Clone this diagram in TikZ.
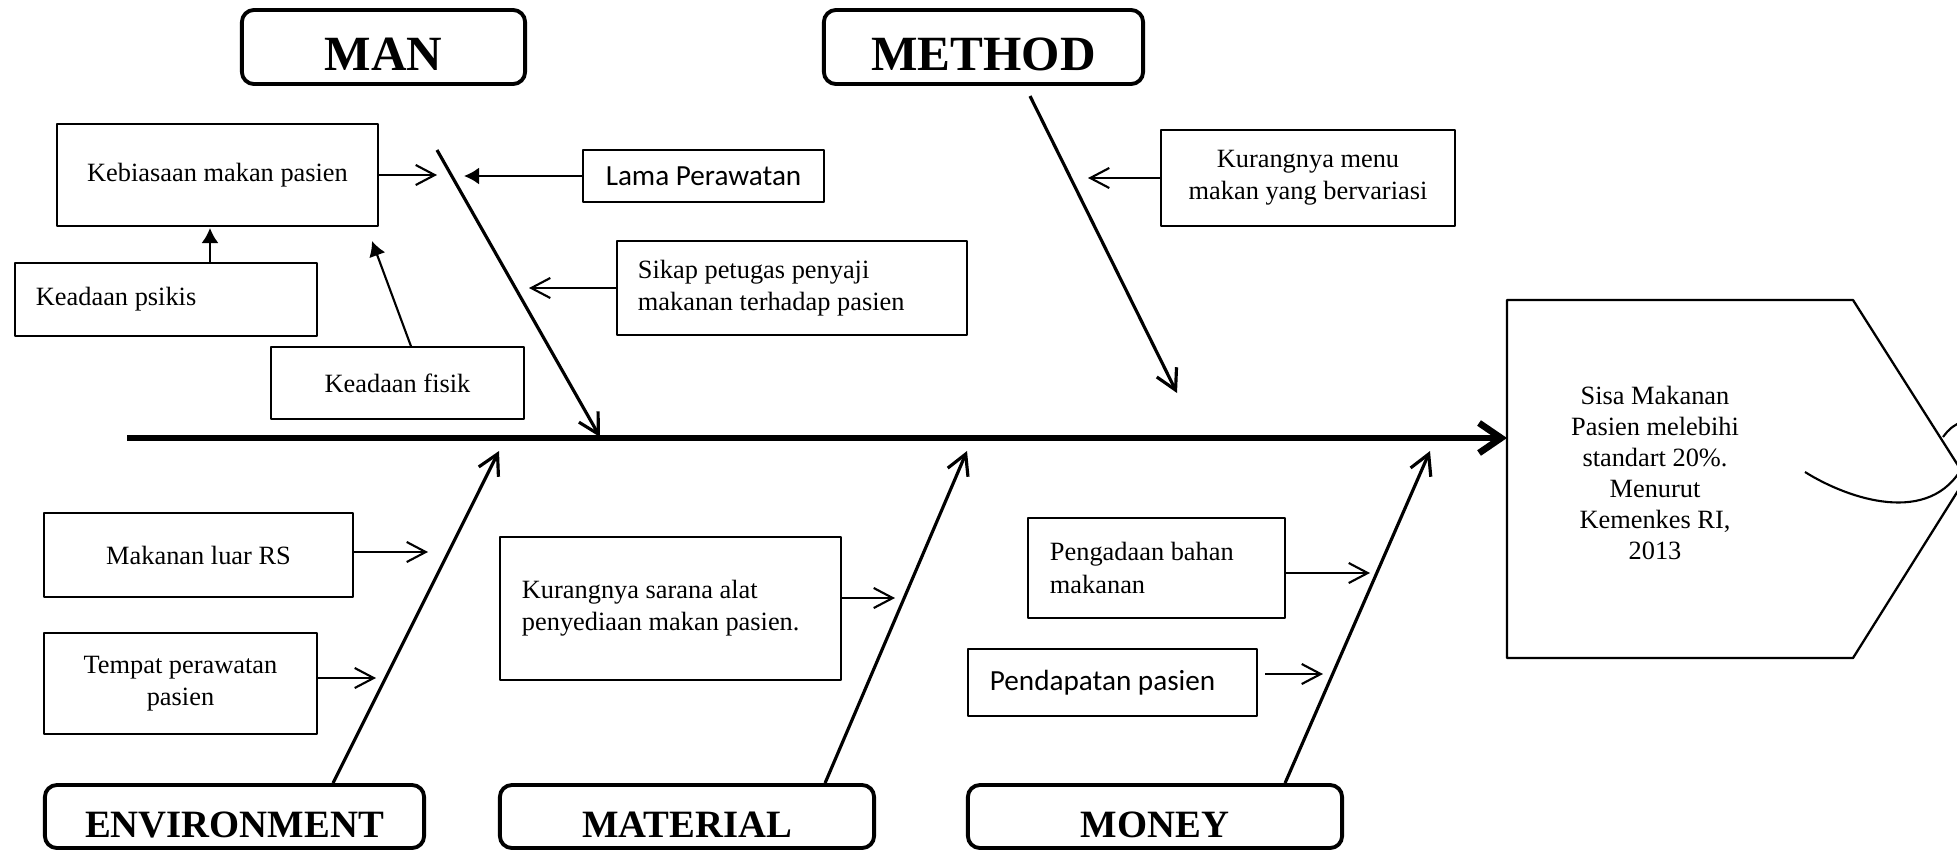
\documentclass[tikz,border=0pt]{standalone}
\usepackage{fontspec}
\setmainfont{Liberation Serif}
\newfontfamily\calibri{Carlito}
\usetikzlibrary{arrows.meta}

\begin{document}
\begin{tikzpicture}[x=0.01cm,y=-0.01cm,line join=round,
    cat/.style={draw,line width=1.1pt,rounded corners=0.12cm,inner sep=0pt,text height=0.47cm,text depth=0pt,font=\bfseries\fontsize{14}{16}\selectfont},
    catlow/.style={cat,text height=0.41cm,font=\bfseries\fontsize{11}{13}\selectfont},
    cause/.style={draw,line width=0.4pt,inner sep=0pt,align=center,font=\fontsize{7.5}{9.2}\selectfont},
    causel/.style={cause,align=flush left},
    sans/.style={font=\calibri\fontsize{8.3}{10}\selectfont},
    bone/.style={line width=0.9pt,-{Straight Barb[length=0.2cm,width=0.22cm]}},
    feed/.style={line width=0.6pt,-{Straight Barb[length=0.19cm,width=0.2cm]}},
    push/.style={line width=0.6pt,-{Latex[length=0.15cm,width=0.17cm]}}]
        \useasboundingbox (0,0) rectangle (1957,851);
        \clip (0,0) rectangle (1957,851);
        % categories
        \node[cat,minimum width=2.83cm,minimum height=0.74cm] (man) at (383.5,47) {MAN};
        \node[cat,minimum width=3.19cm,minimum height=0.74cm] (method) at (983.5,47) {METHOD};
        \node[catlow,minimum width=3.79cm,minimum height=0.63cm] (env) at (234.5,816.5) {ENVIRONMENT};
        \node[catlow,minimum width=3.74cm,minimum height=0.63cm] (mat) at (687,816.5) {MATERIAL};
        \node[catlow,minimum width=3.74cm,minimum height=0.63cm] (money) at (1155,816.5) {MONEY};
        % causes
        \node[cause,minimum width=3.21cm,minimum height=1.02cm] (keb) at (217.5,175) {Kebiasaan makan pasien};
        \node[cause,sans,minimum width=2.41cm,minimum height=0.52cm] (lama) at (703.5,176) {Lama Perawatan};
        \node[causel,text width=3.08cm,minimum width=3.50cm,minimum height=0.94cm] (sikap) at (792,288) {Sikap petugas penyaji\\makanan terhadap pasien};
        \node[causel,text width=2.60cm,minimum width=3.02cm,minimum height=0.73cm] (psikis) at (166,299.5) {Keadaan psikis};
        \node[cause,minimum width=2.53cm,minimum height=0.72cm] (fisik) at (397.5,383) {Keadaan fisik};
        \node[cause,minimum width=2.94cm,minimum height=0.96cm] (menu) at (1308,178) {Kurangnya menu\\makan yang bervariasi};
        \node[cause,minimum width=3.09cm,minimum height=0.84cm] (luar) at (198.5,555) {Makanan luar RS};
        \node[cause,minimum width=2.73cm,minimum height=1.01cm] (tempat) at (180.5,683.5) {Tempat perawatan\\pasien};
        \node[causel,text width=2.97cm,minimum width=3.41cm,minimum height=1.43cm] (sarana) at (670.5,608.5) {Kurangnya sarana alat\\penyediaan makan pasien.};
        \node[causel,text width=2.13cm,minimum width=2.57cm,minimum height=1.00cm] (peng) at (1156.5,568) {Pengadaan bahan\\makanan};
        \node[causel,sans,text width=2.45cm,minimum width=2.89cm,minimum height=0.67cm] (pend) at (1112.5,682.5) {Pendapatan pasien};
        % head
        \draw[line width=0.65pt] (1507,300) -- (1853,300) -- (1966,478) -- (1853,658) -- (1507,658) -- cycle;
        \node[align=center,font=\fontsize{7.5}{8.8}\selectfont] (effect) at (1655,473)
          {Sisa Makanan\\Pasien melebihi\\standart 20\%.\\Menurut\\Kemenkes RI,\\2013};
        \draw[line width=0.6pt] (1805,472) .. controls (1848,499) and (1930,527) .. (1963,466);
        \draw[line width=0.6pt] (1943,437) .. controls (1950,428) .. (1966,419);
        % spine and bones
        \coordinate (tail) at (127,438);
        \coordinate (mouth) at (1507,438);
        \draw[line width=1.9pt,-{Straight Barb[length=0.22cm,width=0.3cm]}] (tail) -- (mouth);
        \coordinate (man-root) at (437,150);
        \coordinate (man-tip) at (600,437);
        \coordinate (method-root) at (1030,96);
        \coordinate (method-tip) at (1177,393);
        \coordinate (env-tip) at (499,451);
        \coordinate (mat-tip) at (967,451);
        \coordinate (money-tip) at (1430,451);
        \foreach \a/\b in {man-root/man-tip,method-root/method-tip}
          \draw[bone] (\a) -- (\b);
        \foreach \n/\s in {env/0.985cm,mat/1.38cm,money/1.3cm}
          \draw[bone] ([xshift=\s]\n.north) -- (\n-tip);
        % cause arrows
        \coordinate (keb-to) at (437,175);
        \coordinate (sikap-to) at (529,288);
        \coordinate (menu-to) at (1088,178);
        \coordinate (luar-to) at (428,552);
        \coordinate (tempat-to) at (376,678);
        \coordinate (sarana-to) at (895,598);
        \coordinate (peng-to) at (1370,573);
        \foreach \n/\s in {keb/east,sikap/west,menu/west,luar/east,tempat/east,sarana/east,peng/east}
          \draw[feed] (\n.\s |- \n-to) -- (\n-to);
        \coordinate (pend-from) at (1265,674);
        \coordinate (pend-to) at (1323,674);
        \draw[feed] (pend-from) -- (pend-to);
        \coordinate (lama-to) at (464,176);
        \coordinate (psikis-to) at (210,228);
        \coordinate (fisik-to) at (372,241);
        \draw[push] (lama.west |- lama-to) -- (lama-to);
        \draw[push] (psikis.north -| psikis-to) -- (psikis-to);
        \draw[push] ([xshift=0.135cm]fisik.north) -- (fisik-to);
      \end{tikzpicture}
\end{document}
